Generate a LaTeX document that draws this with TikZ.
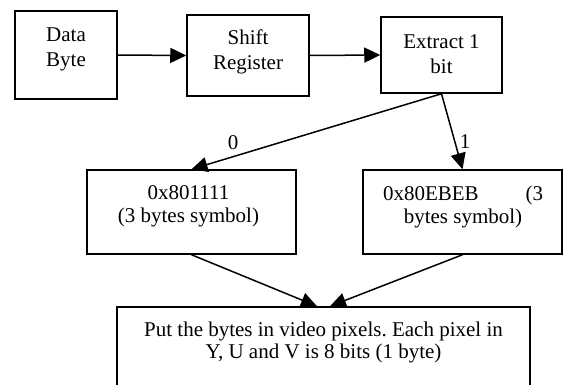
\documentclass[tikz,border=0pt]{standalone}
\usepackage{fontspec}
\setmainfont{Liberation Serif}
\usetikzlibrary{arrows.meta,calc}
\frenchspacing
\begin{document}
\begin{tikzpicture}[x=1pt,y=-1pt,
  box/.style={draw, line width=1.5pt, rectangle, inner sep=0pt},
  txt/.style={font=\fontsize{21}{25}\selectfont, align=center, inner sep=0pt},
  arr/.style={line width=1.5pt, -{Triangle[length=16pt,width=15pt]}},
  lbl/.style={font=\fontsize{21}{25}\selectfont, inner sep=0pt}]
\useasboundingbox (0,0) rectangle (563,385);
% boxes
\node[box, minimum width=102pt, minimum height=88pt] (db) at (66,55) {};
\node[box, minimum width=122pt, minimum height=81pt] (sr) at (248,55.5) {};
\node[box, minimum width=121pt, minimum height=76pt] (ex) at (441.5,55) {};
\node[box, minimum width=209pt, minimum height=84pt] (b4) at (191.5,212) {};
\node[box, minimum width=199pt, minimum height=84pt] (b5) at (462.5,212) {};
\node[box, minimum width=413pt, minimum height=85pt] (bot) at (323.5,349.5) {};
% texts
\node[txt] (tdb) at (66,49.5) {Data\\Byte};
\node[txt] (tsr) at (248,51.5) {Shift\\Register};
\node[txt] (tex) at (441.5,54.5) {Extract 1\\bit};
\node[txt, font=\fontsize{21}{23}\selectfont] (tb4) at (188.5,206.5) {0x801111\\(3 bytes symbol)};
\node[txt, font=\fontsize{21}{23}\selectfont] (tb5) at (463,206.5) {\makebox[160pt][s]{0x80EBEB\hfill(3}\\bytes symbol)};
\node[txt, font=\fontsize{21}{21.5}\selectfont] (tbot) at (323.5,342.5) {Put the bytes in video pixels. Each pixel in\\Y, U and V is 8 bits (1 byte)};
% labels
\node[lbl] (l0) at (233,143) {0};
\node[lbl] (l1) at (465,142) {1};
% connectors
\draw[arr] (db.east) -- (sr.west);
\draw[arr] (sr.east) -- (ex.west);
\draw[arr] (ex.south) -- (b4.north);
\draw[arr] (ex.south) -- (b5.north);
\coordinate (tipL) at ($(bot.north)+(-6.5,0)$);
\coordinate (tipR) at ($(bot.north)+(6.5,0)$);
\draw[arr] (b4.south) -- (tipL);
\draw[arr] (b5.south) -- (tipR);
\end{tikzpicture}
\end{document}
